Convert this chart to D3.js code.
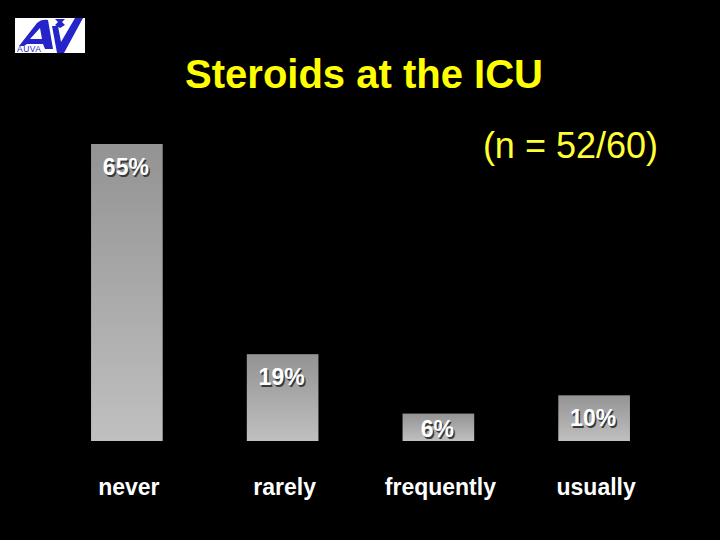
<!DOCTYPE html>
<html>
<head>
<meta charset="utf-8">
<script src="https://cdn.jsdelivr.net/npm/d3@7"></script>
<style>
  html, body { margin: 0; padding: 0; background: #000; }
  text { font-family: 'Liberation Sans', Arial, sans-serif; }
</style>
</head>
<body>
<div id="chart"></div>
<script>
// data
const categories = ['never', 'rarely', 'frequently', 'usually']
const percents = [65, 19, 6, 10]
const valueLabels = ['65%', '19%', '6%', '10%']
const title = 'Steroids at the ICU'
const subtitle = '(n = 52/60)'

const width = 720
const height = 540

const svg = d3
  .select('#chart')
  .append('svg')
  .attr('width', width)
  .attr('height', height)

svg.append('rect').attr('width', width).attr('height', height).attr('fill', '#000')

const defs = svg.append('defs')
const grad = defs
  .append('linearGradient')
  .attr('id', 'barGrad')
  .attr('x1', 0).attr('y1', 0)
  .attr('x2', 0).attr('y2', 1)
grad.append('stop').attr('offset', '0%').attr('stop-color', '#939393')
grad.append('stop').attr('offset', '100%').attr('stop-color', '#c0c0c0')

const xScale = d3
  .scaleBand()
  .domain(categories)
  .range([49, 672])
  .paddingInner(0.54)
  .paddingOuter(0.27)

const yScale = d3
  .scaleLinear()
  .domain([0, 65])
  .range([441, 144])

const data = categories.map((c, i) => ({ cat: c, value: percents[i], label: valueLabels[i] }))

// bars
svg
  .selectAll('.bar')
  .data(data)
  .enter()
  .append('rect')
  .attr('class', 'bar')
  .attr('x', d => xScale(d.cat))
  .attr('y', d => yScale(d.value))
  .attr('width', xScale.bandwidth())
  .attr('height', d => yScale(0) - yScale(d.value))
  .attr('fill', 'url(#barGrad)')

// value labels (with a little drop shadow)
function labelY(d) {
  return Math.min(yScale(d.value) + 31, yScale(0) - 4)
}
const labels = svg.append('g')
labels
  .selectAll('.shadow')
  .data(data)
  .enter()
  .append('text')
  .attr('x', d => xScale(d.cat) + xScale.bandwidth() / 2 - 1 + 1.5)
  .attr('y', d => labelY(d) + 1.5)
  .attr('text-anchor', 'middle')
  .attr('font-size', 23)
  .attr('font-weight', 'bold')
  .attr('fill', '#3a3a3a')
  .text(d => d.label)
labels
  .selectAll('.val')
  .data(data)
  .enter()
  .append('text')
  .attr('x', d => xScale(d.cat) + xScale.bandwidth() / 2 - 1)
  .attr('y', d => labelY(d))
  .attr('text-anchor', 'middle')
  .attr('font-size', 23)
  .attr('font-weight', 'bold')
  .attr('fill', '#fff')
  .text(d => d.label)

// category axis
const xAxis = d3.axisBottom(xScale).tickSize(0).tickPadding(0)
const axisG = svg
  .append('g')
  .attr('transform', 'translate(0,488)')
  .call(xAxis)
axisG.select('.domain').remove()
axisG
  .selectAll('text')
  .attr('dy', '0.32em')
  .attr('font-size', 23)
  .attr('font-weight', 'bold')
  .attr('font-family', "'Liberation Sans', Arial, sans-serif")
  .attr('fill', '#fff')
axisG.selectAll('.tick').attr('transform', d => `translate(${xScale(d) + xScale.bandwidth() / 2 + 2},0)`)

// titles
svg
  .append('text')
  .attr('x', 364)
  .attr('y', 88)
  .attr('text-anchor', 'middle')
  .attr('font-size', 40)
  .attr('font-weight', 'bold')
  .attr('fill', '#ffff00')
  .text(title)

svg
  .append('text')
  .attr('x', 658)
  .attr('y', 158)
  .attr('text-anchor', 'end')
  .attr('font-size', 36)
  .attr('fill', '#ffff33')
  .text(subtitle)

// logo
const logo = svg.append('g').attr('transform', 'translate(15,18)')
logo.append('rect').attr('width', 70).attr('height', 35).attr('fill', '#fff')
logo
  .append('path')
  .attr('fill-rule', 'evenodd')
  .attr('d', 'M4,28 L22,5 C25,2 29,1 33,2 L38,31 L30,31 L28,26 L12,26 L9,28 Z M15,21 L27,21 L25,10 Z')
  .attr('fill', '#2424c8')
logo
  .append('path')
  .attr('d', 'M68,0 L60,0 L46,24 L43,8 L37,8 L42,35 L49,35 Z')
  .attr('fill', '#2424c8')
logo
  .append('path')
  .attr('d', 'M40,1 L50,1 L47,4 L50,7 L45,10 L40,7 L43,4 Z')
  .attr('fill', '#2424c8')
logo
  .append('text')
  .attr('x', 2)
  .attr('y', 34)
  .attr('font-size', 8.5)
  .attr('letter-spacing', 0.5)
  .attr('fill', '#2424c8')
  .text('AUVA')
</script>
</body>
</html>
